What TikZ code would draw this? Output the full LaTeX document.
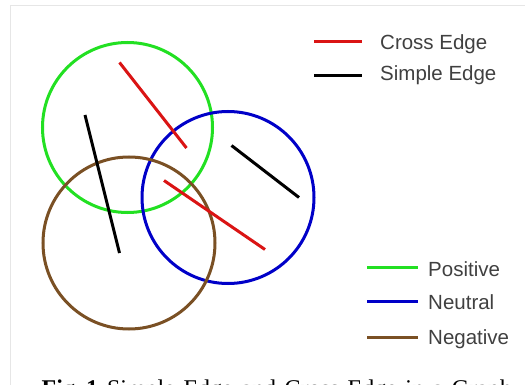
\documentclass[tikz,border=0pt]{standalone}
\usepackage{fontspec}
\setmainfont{Liberation Serif}
\newfontfamily\legfont{Liberation Sans}
\definecolor{cgreen}{RGB}{34,224,34}
\definecolor{cblue}{RGB}{0,0,200}
\definecolor{cbrown}{RGB}{122,80,36}
\definecolor{cred}{RGB}{218,20,20}
\definecolor{ctext}{RGB}{64,64,64}
\definecolor{cframe}{RGB}{230,230,230}
\begin{document}
\begin{tikzpicture}[x=1pt,y=-1pt,
  ring/.style={circle,draw,line width=3pt,inner sep=0pt,outer sep=0pt},
  edgeline/.style={line width=3pt},
  legtext/.style={anchor=base west,inner sep=0pt,text=ctext,font=\legfont\fontsize{20.5}{24}\selectfont},
  framel/.style={draw=cframe,line width=1pt}]
\useasboundingbox (0,0) rectangle (525,385);
\clip (0,0) rectangle (525,385);
% frame
\coordinate (f1) at (10.5,385);
\coordinate (f2) at (10.5,6);
\coordinate (f3) at (525,6);
\draw[framel] (f1) -- (f2) -- (f3);
% circles
\node[ring,draw=cgreen,minimum size=170pt] (pos) at (127.5,127.5) {};
\node[ring,draw=cblue,minimum size=172pt] (neu) at (228,197.5) {};
\node[ring,draw=cbrown,minimum size=172pt] (neg) at (129,243) {};
% edges
\coordinate (r1a) at (119.5,62.5);
\coordinate (r1b) at (186.5,148);
\coordinate (r2a) at (164,180.5);
\coordinate (r2b) at (265,249.5);
\coordinate (b1a) at (85,115);
\coordinate (b1b) at (119.5,253);
\coordinate (b2a) at (231.5,145.5);
\coordinate (b2b) at (299,197.5);
\draw[edgeline,cred] (r1a) -- (r1b);
\draw[edgeline,cred] (r2a) -- (r2b);
\draw[edgeline,black] (b1a) -- (b1b);
\draw[edgeline,black] (b2a) -- (b2b);
% legend top
\coordinate (lc1) at (314,41.5);
\coordinate (lc2) at (362,41.5);
\coordinate (ls1) at (314,75.5);
\coordinate (ls2) at (362,75.5);
\draw[edgeline,cred] (lc1) -- (lc2);
\draw[edgeline,black] (ls1) -- (ls2);
\node[legtext] (tc) at (380,49.5) {Cross Edge};
\node[legtext] (ts) at (380,81) {Simple Edge};
% legend bottom
\coordinate (lp1) at (367,267.5);
\coordinate (lp2) at (418,267.5);
\coordinate (ln1) at (367,301.5);
\coordinate (ln2) at (418,301.5);
\coordinate (lg1) at (367,337);
\coordinate (lg2) at (418,337);
\draw[edgeline,cgreen] (lp1) -- (lp2);
\draw[edgeline,cblue] (ln1) -- (ln2);
\draw[edgeline,cbrown] (lg1) -- (lg2);
\node[legtext] (tp) at (428,276) {Positive};
\node[legtext] (tn) at (428,309.5) {Neutral};
\node[legtext] (tg) at (428,344.5) {Negative};
% caption
\node[anchor=base west,inner sep=0pt,font=\fontsize{24}{28}\selectfont] (cap) at (41.5,396)
  {\spaceskip=8.5pt\textbf{Fig.\hspace{5pt}1.}\hspace{3pt}Simple Edge and Cross Edge in a Graph};
\end{tikzpicture}
\end{document}
